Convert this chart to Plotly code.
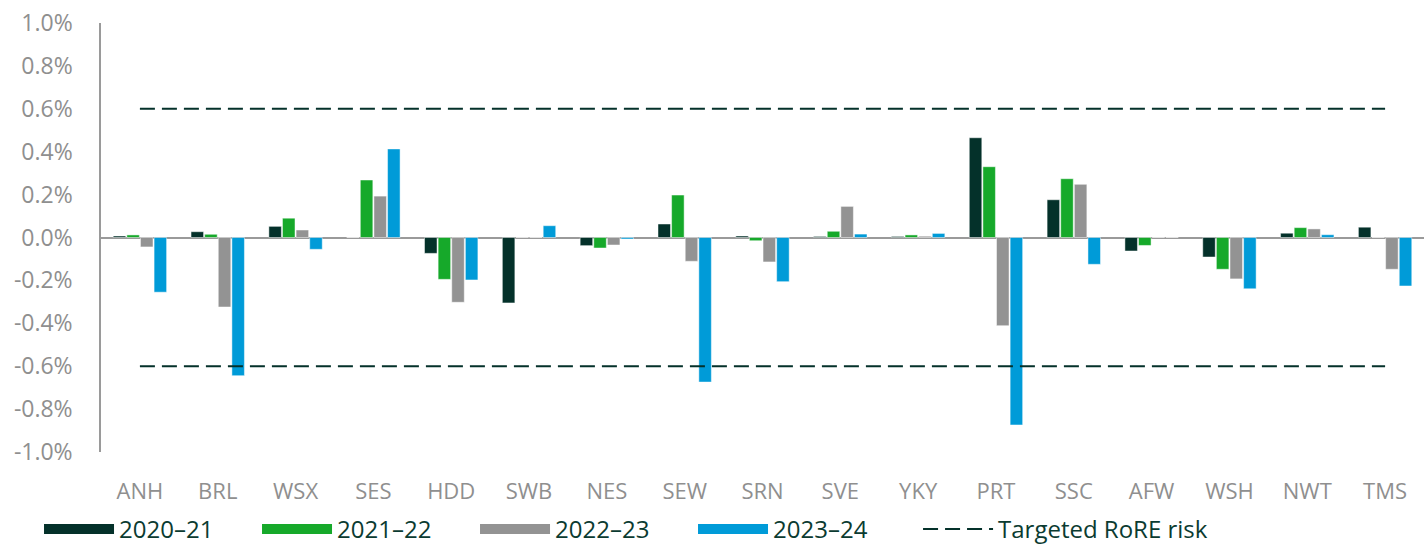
import plotly.graph_objects as go

companies = ["ANH", "BRL", "WSX", "SES", "HDD", "SWB", "NES", "SEW", "SRN",
             "SVE", "YKY", "PRT", "SSC", "AFW", "WSH", "NWT", "TMS"]

y2020_21 = [0.007, 0.027, 0.052, 0.0, -0.074, -0.305, -0.038, 0.063, 0.007,
            0.005, 0.005, 0.465, 0.176, -0.063, -0.091, 0.020, 0.048]
y2021_22 = [0.012, 0.015, 0.090, 0.268, -0.195, 0.0, -0.049, 0.198, -0.015,
            0.029, 0.012, 0.330, 0.274, -0.037, -0.148, 0.046, 0.0]
y2022_23 = [-0.044, -0.324, 0.035, 0.193, -0.302, 0.0, -0.035, -0.111, -0.114,
            0.145, 0.006, -0.411, 0.248, 0.0, -0.193, 0.040, -0.148]
y2023_24 = [-0.255, -0.644, -0.055, 0.413, -0.198, 0.055, -0.007, -0.674, -0.206,
            0.016, 0.019, -0.874, -0.125, 0.0, -0.239, 0.013, -0.226]

series_names = ["2020–21", "2021–22", "2022–23", "2023–24"]
series_values = [y2020_21, y2021_22, y2022_23, y2023_24]
series_colors = ["#04312a", "#16a92a", "#939393", "#009bd8"]

target_upper = 0.6
target_lower = -0.6
target_name = "Targeted RoRE risk"

y_ticks = [-1.0, -0.8, -0.6, -0.4, -0.2, 0.0, 0.2, 0.4, 0.6, 0.8, 1.0]

FONT = "'Open Sans', sans-serif"
TEXT_DARK = "#0b3b31"
GREY = "#8f8f8f"

fig = go.Figure()

for name, vals, col in zip(series_names, series_values, series_colors):
    fig.add_trace(go.Bar(
        x=companies, y=vals, name=name,
        marker=dict(color=col, line=dict(color="rgba(255,255,255,0.6)", width=0.8)),
        legendgroup=name, showlegend=False,
    ))
    # legend swatch (wide rectangle)
    fig.add_trace(go.Scatter(
        x=[None], y=[None], mode="lines", name=name, legendgroup=name,
        line=dict(color=col, width=16), showlegend=True, legend="legend",
    ))

fig.add_trace(go.Scatter(
    x=companies, y=[target_upper] * len(companies), mode="lines",
    name=target_name, legendgroup="target", legend="legend2",
    line=dict(color="#04312a", width=2, dash="15px,7px"),
))
fig.add_trace(go.Scatter(
    x=companies, y=[target_lower] * len(companies), mode="lines",
    name=target_name, legendgroup="target", showlegend=False, legend="legend2",
    line=dict(color="#04312a", width=2, dash="15px,7px"),
))

legend_common = dict(
    orientation="h", xref="container", yref="container",
    xanchor="left", y=0.0, yanchor="bottom",
    font=dict(family=FONT, size=24, color=TEXT_DARK),
    itemwidth=70, traceorder="normal", bgcolor="rgba(0,0,0,0)",
)

fig.update_layout(
    width=1424, height=552,
    margin=dict(l=101, r=0, t=23, b=100),
    paper_bgcolor="white", plot_bgcolor="white",
    barmode="group", bargap=0.3, bargroupgap=0.08,
    font=dict(family=FONT, size=22, color=GREY),
    showlegend=True,
    legend=dict(legend_common, x=0.0274, entrywidth=133, entrywidthmode="pixels"),
    legend2=dict(legend_common, x=0.6447),
    xaxis=dict(
        showgrid=False, showline=False, ticks="", automargin=False,
        tickfont=dict(family=FONT, size=22, color=GREY),
        ticklabelstandoff=24,
    ),
    yaxis=dict(
        range=[-1.0, 1.0], tickvals=y_ticks, automargin=False,
        ticktext=[f"{v:.1f}%" for v in y_ticks],
        ticklabeloverflow="allow",
        showgrid=False, showline=True, linecolor="#9a9a9a", linewidth=1.5,
        ticks="", ticklabelstandoff=22,
        zeroline=True, zerolinecolor="#9a9a9a", zerolinewidth=1.5,
        tickfont=dict(family=FONT, size=23, color=GREY),
    ),
)

# remove the browser's default 8px body margin so the figure fills the window
fig.write_html("out.html", config={"displayModeBar": False},
               post_script="document.body.style.margin='0px';")
